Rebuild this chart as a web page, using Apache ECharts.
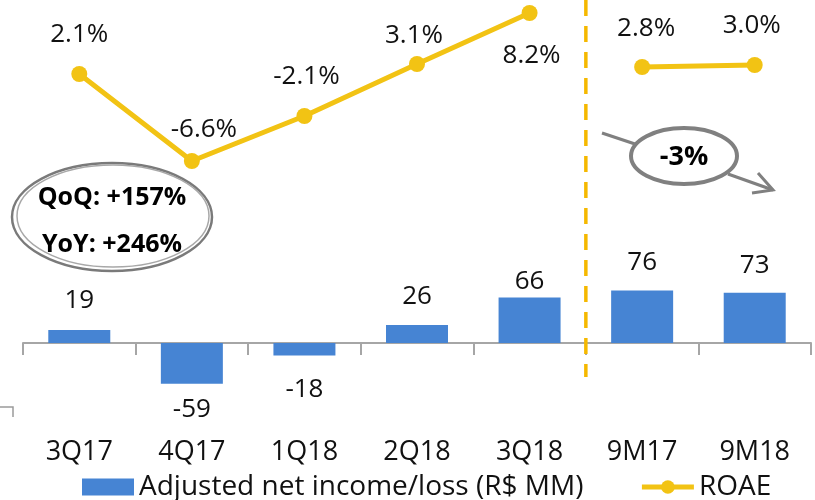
<!DOCTYPE html>
<html><head><meta charset="utf-8">
<script src="https://cdn.jsdelivr.net/npm/echarts@6/dist/echarts.min.js"></script>
<style>html,body{margin:0;padding:0;background:#fff}#c{width:815px;height:500px}</style>
</head><body><div id="c"></div>
<script>
const categories = ['3Q17','4Q17','1Q18','2Q18','3Q18','9M17','9M18'];
const netIncome = [19,-59,-18,26,66,76,73];
const roaeQuarterly = [2.1,-6.6,-2.1,3.1,8.2,null,null];
const roaeNineMonths = [null,null,null,null,null,2.8,3.0];
const calloutLeft = ['QoQ: +157%','YoY: +246%'];
const calloutRight = '-3%';
const seriesNames = ['Adjusted net income/loss (R$ MM)','ROAE'];

const FONT = 'Open Sans';
const BLUE = '#4684D3';
const YELLOW = '#F2C314';
const DASH = '#F5B800';
const GRAY = '#A6A6A6';

// label placement tweaks per point (styling, not data)
const barLabelDist = [16,13,21,15,3,15,14];
const lineLabelCfg = [
  {position:'top',distance:18,offset:[0,0]},
  {position:'top',distance:10,offset:[12,0]},
  {position:'top',distance:18,offset:[2,0]},
  {position:'top',distance:7,offset:[-3,0]},
  {position:'bottom',distance:22,offset:[2,0]},
  {position:'top',distance:17,offset:[4,0]},
  {position:'top',distance:18,offset:[-3,0]}
];

const barData = netIncome.map((v,i)=>({
  value:v,
  label:{position: v>=0?'top':'bottom', distance: barLabelDist[i]}
}));
function lineData(arr){
  return arr.map((v,i)=> v==null ? '-' : ({
    value:v,
    label:Object.assign({}, lineLabelCfg[i])
  }));
}

const chart = echarts.init(document.getElementById('c'), null, {renderer:'canvas'});
const gridTop = 0, gridH = 420, zeroBarY = 343, barScale = 0.69, zeroLineY = 95, lineScale = 10;

const option = {
  animation:false,
  textStyle:{fontFamily:FONT},
  grid:{left:23,right:4,top:gridTop,height:gridH,containLabel:false,outerBoundsMode:'none'},
  legend:{
    left:77, top:468, itemWidth:52, itemHeight:17, itemGap:56,
    textStyle:{fontSize:28,color:'#111',fontFamily:FONT},
    data:[
      {name:seriesNames[0], icon:'rect'},
      {name:seriesNames[1], lineStyle:{width:5,color:YELLOW}, itemStyle:{color:YELLOW}}
    ]
  },
  xAxis:[
    {
      type:'category', data:categories,
      axisLine:{onZero:true,onZeroAxisIndex:0,lineStyle:{color:GRAY,width:2}},
      axisTick:{show:true,length:12,lineStyle:{color:GRAY,width:2}},
      axisLabel:{show:false},
      splitLine:{show:false}
    },
    {
      type:'category', data:categories, position:'bottom',
      axisLine:{show:false,onZero:false}, axisTick:{show:false},
      axisLabel:{show:true,margin:19,fontSize:27,color:'#111',fontFamily:FONT},
      splitLine:{show:false}
    }
  ],
  yAxis:[
    {type:'value', show:false, min:-(gridH-(zeroBarY-gridTop))/barScale, max:(zeroBarY-gridTop)/barScale, splitLine:{show:false}},
    {type:'value', show:false, min:-(gridH-(zeroLineY-gridTop))/lineScale, max:(zeroLineY-gridTop)/lineScale, splitLine:{show:false}}
  ],
  series:[
    {
      name:seriesNames[0], type:'bar', xAxisIndex:0, yAxisIndex:0, data:barData, barWidth:62,
      itemStyle:{color:BLUE},
      label:{show:true,fontSize:26,color:'#111',fontFamily:FONT}, z:2
    },
    {
      name:seriesNames[1], type:'line', xAxisIndex:0, yAxisIndex:1, data:lineData(roaeQuarterly),
      symbol:'circle', symbolSize:16, lineStyle:{color:YELLOW,width:5}, itemStyle:{color:YELLOW},
      label:{show:true,fontSize:26,color:'#111',fontFamily:FONT,formatter:p=>p.value.toFixed(1)+'%'}, z:5
    },
    {
      name:seriesNames[1], type:'line', xAxisIndex:0, yAxisIndex:1, data:lineData(roaeNineMonths),
      symbol:'circle', symbolSize:16, lineStyle:{color:YELLOW,width:5}, itemStyle:{color:YELLOW},
      label:{show:true,fontSize:26,color:'#111',fontFamily:FONT,formatter:p=>p.value.toFixed(1)+'%'}, z:5
    }
  ]
};
chart.setOption(option);

const xa = chart.convertToPixel({xAxisIndex:0}, categories[4]);
const xb = chart.convertToPixel({xAxisIndex:0}, categories[5]);
const sepX = (xa+xb)/2;

chart.setOption({
  graphic:[
    {type:'line', shape:{x1:sepX,y1:0,x2:sepX,y2:377}, style:{stroke:DASH,lineWidth:3.5,lineDash:[16,10]}, z:10},
    {type:'ellipse', shape:{cx:112,cy:217,rx:100,ry:54}, style:{fill:'#fff',stroke:'#7a7a7a',lineWidth:2.5}, z:20},
    {type:'ellipse', shape:{cx:113,cy:216,rx:96,ry:51}, style:{fill:null,stroke:'#a8a8a8',lineWidth:1.5}, z:21},
    {type:'text', x:112, y:198, style:{text:calloutLeft[0],font:'bold 25px "Open Sans"',fill:'#000',align:'center',verticalAlign:'middle'}, z:22},
    {type:'text', x:112, y:245, style:{text:calloutLeft[1],font:'bold 25px "Open Sans"',fill:'#000',align:'center',verticalAlign:'middle'}, z:22},
    {type:'polyline', shape:{points:[[602,133],[638,145]]}, style:{stroke:'#808080',lineWidth:3}, z:20},
    {type:'polyline', shape:{points:[[728,174],[773,190]]}, style:{stroke:'#808080',lineWidth:3}, z:20},
    {type:'polyline', shape:{points:[[758,173],[773,190],[752,193]]}, style:{stroke:'#808080',lineWidth:3,fill:null}, z:20},
    {type:'ellipse', shape:{cx:684,cy:156,rx:53,ry:28}, style:{fill:'#fff',stroke:'#808080',lineWidth:4}, z:21},
    {type:'text', x:684, y:157, style:{text:calloutRight,font:'bold 27px "Open Sans"',fill:'#000',align:'center',verticalAlign:'middle'}, z:22},
    {type:'polyline', shape:{points:[[0,407],[13,407],[13,417]]}, style:{stroke:'#9a9a9a',lineWidth:1.5,fill:null}, z:20}
  ]
});
</script>
</body></html>
